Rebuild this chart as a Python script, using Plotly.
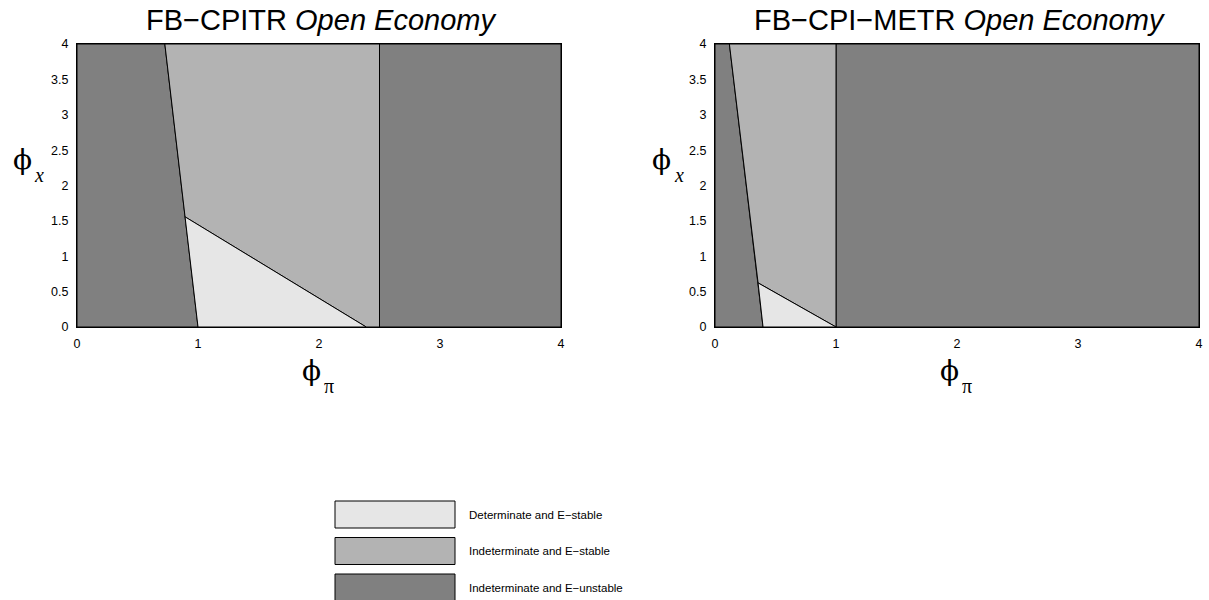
import plotly.graph_objects as go

# ---------------- data (region boundaries) ----------------
# Left panel: FB-CPITR
cpitr_unstable_left_x = [0, 0, 0.726, 1.0]
cpitr_unstable_left_y = [0, 4, 4, 0]
cpitr_unstable_right_x = [2.5, 2.5, 4, 4]
cpitr_unstable_right_y = [0, 4, 4, 0]
cpitr_indet_x = [0.726, 2.5, 2.5, 2.39, 0.893]
cpitr_indet_y = [4, 4, 0, 0, 1.557]
cpitr_det_x = [0.893, 1.0, 2.39]
cpitr_det_y = [1.557, 0, 0]

# Right panel: FB-CPI-METR
metr_unstable_left_x = [0, 0, 0.119, 0.397]
metr_unstable_left_y = [0, 4, 4, 0]
metr_unstable_right_x = [1.0, 1.0, 4, 4]
metr_unstable_right_y = [0, 4, 4, 0]
metr_indet_x = [0.119, 1.0, 1.0, 0.356]
metr_indet_y = [4, 4, 0, 0.623]
metr_det_x = [0.356, 0.397, 1.0]
metr_det_y = [0.623, 0, 0]

tick_vals_x = [0, 1, 2, 3, 4]
tick_text_x = ["0", "1", "2", "3", "4"]
tick_vals_y = [0, 0.5, 1, 1.5, 2, 2.5, 3, 3.5, 4]
tick_text_y = ["0", "0.5", "1", "1.5", "2", "2.5", "3", "3.5", "4"]

legend_labels = ["Determinate and E\u2212stable",
                 "Indeterminate and E\u2212stable",
                 "Indeterminate and E\u2212unstable"]

titles = ["FB\u2212CPITR <i>Open Economy</i>", "FB\u2212CPI\u2212METR <i>Open Economy</i>"]

# ---------------- styles ----------------
C_DET = "#e6e6e6"
C_IND = "#b3b3b3"
C_UNS = "#808080"

W, H = 1209, 600
fig = go.Figure()

def poly(x, y, color, xa, ya):
    fig.add_trace(go.Scatter(
        x=x + [x[0]], y=y + [y[0]], mode="lines", fill="toself",
        fillcolor=color, line=dict(color="black", width=1),
        xaxis=xa, yaxis=ya, hoverinfo="skip", showlegend=False))

poly(cpitr_unstable_left_x, cpitr_unstable_left_y, C_UNS, "x", "y")
poly(cpitr_unstable_right_x, cpitr_unstable_right_y, C_UNS, "x", "y")
poly(cpitr_indet_x, cpitr_indet_y, C_IND, "x", "y")
poly(cpitr_det_x, cpitr_det_y, C_DET, "x", "y")

poly(metr_unstable_left_x, metr_unstable_left_y, C_UNS, "x2", "y2")
poly(metr_unstable_right_x, metr_unstable_right_y, C_UNS, "x2", "y2")
poly(metr_indet_x, metr_indet_y, C_IND, "x2", "y2")
poly(metr_det_x, metr_det_y, C_DET, "x2", "y2")

def px(x):
    return x / W

def py(y):
    return 1 - y / H

tickfont = dict(family="Liberation Sans, Arial, sans-serif", size=12.5, color="black")
axis_common = dict(range=[0, 4], showgrid=False, zeroline=False, showline=True,
                   linecolor="black", linewidth=1, mirror=True, ticks="outside",
                   ticklen=5, tickcolor="rgba(0,0,0,0)", tickfont=tickfont,
                   fixedrange=True, automargin=False)

left_dom = [px(77), px(561)]
right_dom = [px(715), px(1199)]
y_dom = [py(327), py(44)]

fig.update_layout(
    width=W, height=H,
    margin=dict(l=0, r=0, t=0, b=0, autoexpand=False),
    paper_bgcolor="white", plot_bgcolor="white",
    showlegend=False,
    xaxis=dict(domain=left_dom, anchor="y", tickvals=tick_vals_x, ticktext=tick_text_x, **axis_common),
    yaxis=dict(domain=y_dom, anchor="x", tickvals=tick_vals_y, ticktext=tick_text_y, **axis_common),
    xaxis2=dict(domain=right_dom, anchor="y2", tickvals=tick_vals_x, ticktext=tick_text_x, **axis_common),
    yaxis2=dict(domain=y_dom, anchor="x2", tickvals=tick_vals_y, ticktext=tick_text_y, **axis_common),
)

ann = []
title_font = dict(family="Liberation Sans, Arial, sans-serif", size=29, color="black")
for t, cx in zip(titles, [321, 959]):
    ann.append(dict(text=t, x=px(cx), y=py(20), xref="paper", yref="paper",
                    xanchor="center", yanchor="middle", showarrow=False, font=title_font))

phi_font = dict(family="DejaVu Serif, Liberation Serif, serif", size=28, color="black")
sub_font = dict(family="Liberation Serif, Times New Roman, serif", size=20, color="black")
# y-axis labels
for fx, sx in [(22, 39), (661, 679)]:
    ann.append(dict(text="\u03d5", x=px(fx), y=py(160), xref="paper", yref="paper",
                    xanchor="center", yanchor="middle", showarrow=False, font=phi_font))
    ann.append(dict(text="<i>x</i>", x=px(sx), y=py(175), xref="paper", yref="paper",
                    xanchor="center", yanchor="middle", showarrow=False, font=sub_font))
# x-axis labels
for fx, sx in [(311, 329), (949, 967)]:
    ann.append(dict(text="\u03d5", x=px(fx), y=py(370), xref="paper", yref="paper",
                    xanchor="center", yanchor="middle", showarrow=False, font=phi_font))
    ann.append(dict(text="\u03c0", x=px(sx), y=py(386), xref="paper", yref="paper",
                    xanchor="center", yanchor="middle", showarrow=False, font=sub_font))

# legend (drawn as boxes + text)
shapes = []
leg_colors = [C_DET, C_IND, C_UNS]
leg_tops = [501, 537.5, 574]
for lab, col, top in zip(legend_labels, leg_colors, leg_tops):
    shapes.append(dict(type="rect", xref="paper", yref="paper",
                       x0=px(335), x1=px(455), y0=py(top + 27), y1=py(top),
                       fillcolor=col, line=dict(color="black", width=1)))
    ann.append(dict(text=lab, x=px(467), y=py(top + 13.5), xref="paper", yref="paper",
                    xanchor="left", yanchor="middle", showarrow=False,
                    font=dict(family="Liberation Sans, Arial, sans-serif", size=11.5, color="black")))

fig.update_layout(annotations=ann, shapes=shapes)

fig.write_html("out.html")
